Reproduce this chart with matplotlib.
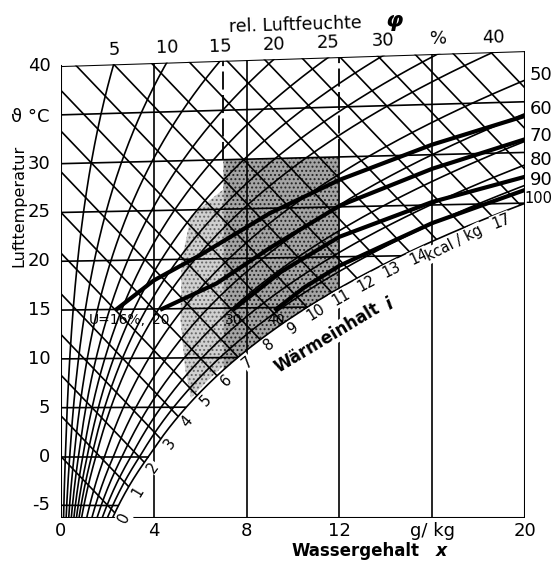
import numpy as np
import matplotlib
matplotlib.use("Agg")
import matplotlib.pyplot as plt
from matplotlib.patches import Polygon
from matplotlib import font_manager

# ---------------- data ----------------
pressure_mbar = 1013.0
x_ticks = [0, 4, 8, 12, 20]               # g/kg labels on bottom
x_verticals = [4, 8, 16]                  # solid x-lines
t_ticks = [-5, 0, 5, 10, 15, 20, 25, 30, 40]
isotherms = [-5, 0, 5, 10, 15, 20, 25, 30, 35]
phi_lines = [0.05, 0.10, 0.15, 0.20, 0.25, 0.30, 0.35, 0.40,
             0.50, 0.60, 0.70, 0.80, 0.90, 1.00]
phi_top_labels = ["5", "10", "15", "20", "25", "30", "%", "40"]
phi_top_values = [0.05, 0.10, 0.15, 0.20, 0.25, 0.30, 0.35, 0.40]
phi_right_labels = ["50", "60", "70", "80", "90", "100"]
phi_right_values = [0.50, 0.60, 0.70, 0.80, 0.90, 1.00]
enthalpies = list(range(0, 23))           # kcal/kg
enthalpy_labels = list(range(0, 15)) + [17]
t_bottom = -6.3
t_top = 40.0
shade_x = [7.0, 12.0]
shade_t_top = 30.0

# thick curves (x g/kg, t degC)
thick_A_x = [2.33, 4.0, 6.0, 9.0, 12.0, 16.0, 20.0]
thick_A_t = [14.9, 17.9, 20.4, 24.5, 27.7, 31.0, 33.6]
thick_B_x = [4.27, 6.7, 9.0, 12.0, 16.0, 20.0]
thick_B_t = [14.9, 17.5, 21.0, 25.1, 28.6, 31.3]
thick_C_x = [7.4, 9.5, 12.0, 16.0, 20.0]
thick_C_t = [14.8, 18.6, 22.0, 25.3, 27.6]
thick_D_x = [9.2, 10.5, 12.0, 16.0, 20.0]
thick_D_t = [14.7, 17.0, 19.1, 23.2, 26.3]
thick_labels = ["U=16%,", "20", "30", "40"]

# ---------------- physics helpers ----------------
def ps(t):
    t = np.asarray(t, float)
    return np.where(t >= 0, 6.112 * np.exp(17.62 * t / (243.12 + t)),
                    6.112 * np.exp(22.46 * t / (272.62 + t)))

def xw(t, phi):
    p = phi * ps(t)
    return 622.0 * p / (pressure_mbar - p)

def Yc(t, x):
    return np.asarray(t) * (1 + 0.46 * np.asarray(x) / 240.0)

def enth(t, x):
    return 0.24 * t + x * (597 + 0.46 * t) / 1000.0

tt = np.linspace(-7, 45, 3000)
xs_sat = xw(tt, 1.0)
is_sat = enth(tt, xs_sat)

def sat_t_of_x(x):
    return np.interp(x, xs_sat, tt)

def sat_point_of_i(i):
    t = np.interp(i, is_sat, tt)
    x = float(xw(t, 1.0))
    return x, t

# narrow font for the squeezed "100" label, if available
available = {f.name for f in font_manager.fontManager.ttflist}
narrow = "Liberation Sans Narrow" if "Liberation Sans Narrow" in available else None

# ---------------- figure ----------------
W, H = 553, 567
plt.rcParams["hatch.linewidth"] = 0.9
fig = plt.figure(figsize=(W / 100, H / 100), dpi=100)
ax = fig.add_axes([61 / W, 1 - 518 / H, 464 / W, (518 - 51.4) / H])
ax.set_xlim(0, 20)
ax.set_ylim(t_bottom, 41.5)
ax.axis("off")

def px2fig(px, py):
    return px / W, 1 - py / H

region = Polygon([(0, t_bottom), (20, t_bottom), (20, Yc(t_top, 20)), (0, t_top)],
                 closed=True, transform=ax.transData, facecolor="none", edgecolor="none")
ax.add_patch(region)

LW = 1.2
K = "black"

def cline(x, y, **kw):
    ln, = ax.plot(x, y, color=K, solid_capstyle="butt", **kw)
    ln.set_clip_path(region)
    return ln

# shading (stipple)
blob = [(shade_x[0], float(Yc(27, shade_x[0]))), (5.6, 24.7), (5.2, 20.0), (5.15, 14.0),
        (5.35, 9.0)]
blob += [(float(x), float(Yc(sat_t_of_x(x), x)) + 0.4) for x in np.linspace(5.6, shade_x[0], 15)]
ax.add_patch(Polygon(blob, closed=True, facecolor="#d0d0d0", edgecolor="#666666",
                     hatch="....", linewidth=0, zorder=0.5))
xx = np.linspace(shade_x[1], shade_x[0], 40)
main_poly = [(shade_x[0], float(Yc(shade_t_top, shade_x[0]))),
             (shade_x[1], float(Yc(shade_t_top, shade_x[1])))]
main_poly += [(float(x), float(Yc(sat_t_of_x(x), x))) for x in xx]
ax.add_patch(Polygon(main_poly, closed=True, facecolor="#a4a4a4", edgecolor="#222222",
                     hatch="....", linewidth=0, zorder=0.6))

# isotherms
for t in isotherms:
    xe = min(float(xw(t, 1.0)), 20)
    x = np.linspace(0, xe, 50)
    cline(x, Yc(t, x), lw=LW)
# frame
x = np.linspace(0, 20, 10)
cline(x, Yc(t_top, x), lw=1.5)
ax.plot([0, 0], [t_bottom, t_top], color=K, lw=1.5)
ax.plot([20, 20], [t_bottom, float(Yc(t_top, 20))], color=K, lw=1.5)
ax.plot([0, 20], [t_bottom, t_bottom], color=K, lw=1.5)

# verticals
for xv in x_verticals:
    cline([xv, xv], [t_bottom, 45], lw=LW)
cline([12, 12], [t_bottom, float(Yc(shade_t_top, 12))], lw=LW)
cline([12, 12], [float(Yc(shade_t_top, 12)), 45], lw=1.3, dashes=(10, 3))
cline([7, 7], [float(Yc(shade_t_top, 7)), 45], lw=1.3, dashes=(10, 3))

# relative humidity lines
tphi = np.linspace(-7, 42, 600)
for phi in phi_lines:
    x = xw(tphi, phi)
    cline(x, Yc(tphi, x), lw=LW)

# isenthalps
for i in enthalpies:
    xs_, ts_ = sat_point_of_i(i)
    x = np.linspace(0, xs_, 60)
    cline(x, (i - 0.597 * x) / 0.24, lw=LW)

# thick curves
for cx, ct in [(thick_A_x, thick_A_t), (thick_B_x, thick_B_t),
               (thick_C_x, thick_C_t), (thick_D_x, thick_D_t)]:
    cx = np.array(cx); ct = np.array(ct)
    cline(cx, Yc(ct, cx), lw=3.0, solid_joinstyle="round")

# ---------------- text ----------------
FS = 13
for t in t_ticks:
    ax.text(-0.45, t, str(t), ha="right", va="center", fontsize=FS)
for xt in x_ticks:
    ax.text(xt, t_bottom - 1.35, str(xt), ha="center", va="center", fontsize=FS)
ax.text(16, t_bottom - 1.35, "g/ kg", ha="center", va="center", fontsize=FS)
for lab, phi in zip(phi_top_labels, phi_top_values):
    x = float(xw(t_top, phi))
    ax.text(x, float(Yc(t_top, x)) + 1.5, lab, ha="center", va="center", fontsize=FS,
            rotation=1.7)
for lab, phi in zip(phi_right_labels, phi_right_values):
    t = float(np.interp(20, xw(tphi, phi), tphi))
    if len(lab) < 3:
        ax.text(20.2, float(Yc(t, 20)) + 0.5, lab, ha="left", va="center", fontsize=FS)
    elif narrow:
        ax.text(20.1, float(Yc(t, 20)) + 0.5, lab, ha="left", va="center", fontsize=FS,
                family=[narrow, "DejaVu Sans"])
    else:
        fig.text(552 / W, 0, lab, ha="right", va="center", fontsize=10.5,
                 transform=matplotlib.transforms.blended_transform_factory(
                     fig.transFigure, ax.transData)).set_y(float(Yc(t, 20)) + 0.5)

fig.text(*px2fig(295, 25), "rel. Luftfeuchte", ha="center", va="center", fontsize=12.5,
         rotation=1.7)
fig.text(*px2fig(394, 21), "φ", ha="center", va="center", fontsize=16,
         style="italic", fontweight="bold")
fig.text(*px2fig(355, 551), "Wassergehalt", ha="center", va="center", fontsize=12,
         fontweight="bold")
fig.text(*px2fig(441, 551), "x", ha="center", va="center", fontsize=12.5,
         fontweight="bold", style="italic")
fig.text(*px2fig(19, 206), "Lufttemperatur", ha="center", va="center", fontsize=11.5,
         rotation=90)
fig.text(*px2fig(30, 117), "ϑ °C", ha="center", va="center", fontsize=13)

# enthalpy labels along saturation
def sat_angle(x):
    t0 = sat_t_of_x(x)
    t1 = sat_t_of_x(x + 0.2)
    p0 = ax.transData.transform((x, float(Yc(t0, x))))
    p1 = ax.transData.transform((x + 0.2, float(Yc(t1, x + 0.2))))
    return np.degrees(np.arctan2(p1[1] - p0[1], p1[0] - p0[0]))

for i in enthalpy_labels:
    xs_, ts_ = sat_point_of_i(i)
    ax.annotate(str(i), (xs_, float(Yc(ts_, xs_))), xytext=(6.5, -3.8),
                textcoords="offset points", ha="center", va="center", fontsize=10.5,
                rotation=sat_angle(xs_), rotation_mode="anchor",
                bbox=dict(boxstyle="square,pad=0.05", fc="white", ec="none"))

fig.text(*px2fig(327, 338), "Wärmeinhalt", ha="center", va="center", fontsize=12,
         rotation=31, fontweight="bold",
         bbox=dict(boxstyle="square,pad=0.05", fc="white", ec="none"))
fig.text(*px2fig(389, 304), "i", ha="center", va="center", fontsize=12.5,
         rotation=31, fontweight="bold", style="italic",
         bbox=dict(boxstyle="square,pad=0.05", fc="white", ec="none"))
fig.text(*px2fig(454, 243), "kcal / kg", ha="center", va="center", fontsize=10.5,
         rotation=27, bbox=dict(boxstyle="square,pad=0.05", fc="white", ec="none"))

# thick-curve labels
for lab, cx, ct in zip(thick_labels, [thick_A_x, thick_B_x, thick_C_x, thick_D_x],
                       [thick_A_t, thick_B_t, thick_C_t, thick_D_t]):
    ax.text(cx[0] + (0.05 if lab != thick_labels[0] else 0.1), Yc(ct[0], cx[0]) - 1.0, lab,
            ha="center", va="center", fontsize=10)

fig.savefig("out.png", dpi=100)
